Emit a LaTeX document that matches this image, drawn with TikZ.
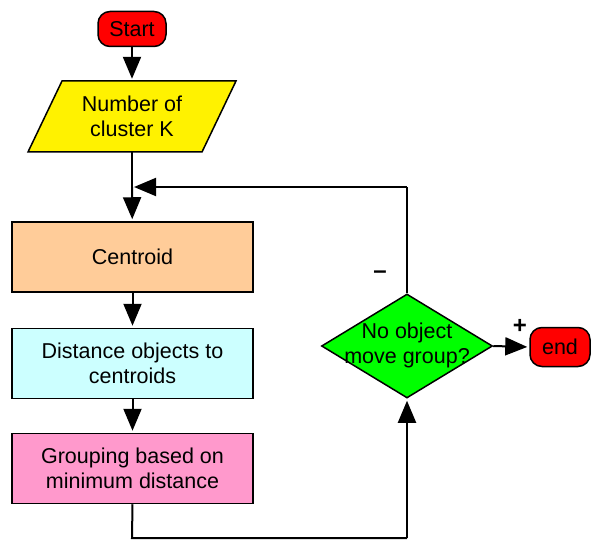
\documentclass[tikz,border=0pt]{standalone}
\usepackage{fontspec}
\setmainfont{Liberation Sans}
\usetikzlibrary{arrows.meta,shapes.geometric}
\definecolor{peach}{HTML}{FFCC99}
\definecolor{lcyan}{HTML}{CCFFFF}
\definecolor{pinkish}{HTML}{FF99CC}
\definecolor{lgreen}{HTML}{00FF00}
\tikzset{
  txt/.style={font=\fontsize{21.5}{25}\selectfont, align=center, text=black},
  term/.style={txt, draw, line width=1.5pt, fill=red, rounded corners=12pt, inner sep=0pt},
  procbox/.style={txt, draw, line width=1.5pt, minimum width=241pt, minimum height=70pt, inner sep=0pt},
  conn/.style={line width=2pt, -{Triangle[width=18pt,length=22pt]}, shorten >=2pt},
  plainline/.style={line width=2pt},
  sign/.style={font=\fontsize{24}{25}\selectfont\bfseries, text=black},
}
\begin{document}
\begin{tikzpicture}[x=1pt,y=-1pt]
\useasboundingbox (0,0) rectangle (592,540);
% terminals
\node[term, minimum width=68pt, minimum height=35pt] (start) at (132,29) {Start};
\node[term, minimum width=60pt, minimum height=39pt] (end) at (560,347) {end};
% input parallelogram
\draw[line width=1.5pt, fill=yellow] (28,152) -- (202,152) -- (236,81) -- (62,81) -- cycle;
\node[txt, minimum width=140pt, minimum height=71pt, inner sep=0pt] (inp) at (132,116.5) {Number of\\cluster K};
% process boxes
\node[procbox, fill=peach] (cen) at (132.5,257) {Centroid};
\node[procbox, fill=lcyan] (dist) at (132.5,363.5) {Distance objects to\\centroids};
\node[procbox, fill=pinkish] (grp) at (132.5,468.5) {Grouping based on\\minimum distance};
% decision
\node[draw, line width=1.5pt, fill=lgreen, shape=diamond, minimum width=171pt, minimum height=104pt, inner sep=0pt] (dec) at (407,346) {};
\node[txt] (dectxt) at (407,345) {No object\\move group?};
% helper coordinates
\coordinate (J) at (132,187);
\coordinate (T) at (407,187);
\coordinate (B1) at (132,538);
\coordinate (B2) at (407,538);
% connectors
\draw[conn] (start) -- (inp);
\draw[plainline] (inp.south) -- (J);
\draw[conn] (J) -- (cen);
\draw[conn] (cen) -- (dist);
\draw[conn] (dist) -- (grp);
\draw[plainline] (grp.south) -- (B1) -- (B2);
\draw[conn] (B2) -- (dec.south);
\draw[plainline] (dec.north) -- (T);
\draw[conn] (T) -- (J);
\draw[conn] (dec.east) -- (end.west);
% branch labels
\node[sign] (minus) at (380,275) {--};
\node[sign] (plus) at (520,326) {+};
\end{tikzpicture}
\end{document}
